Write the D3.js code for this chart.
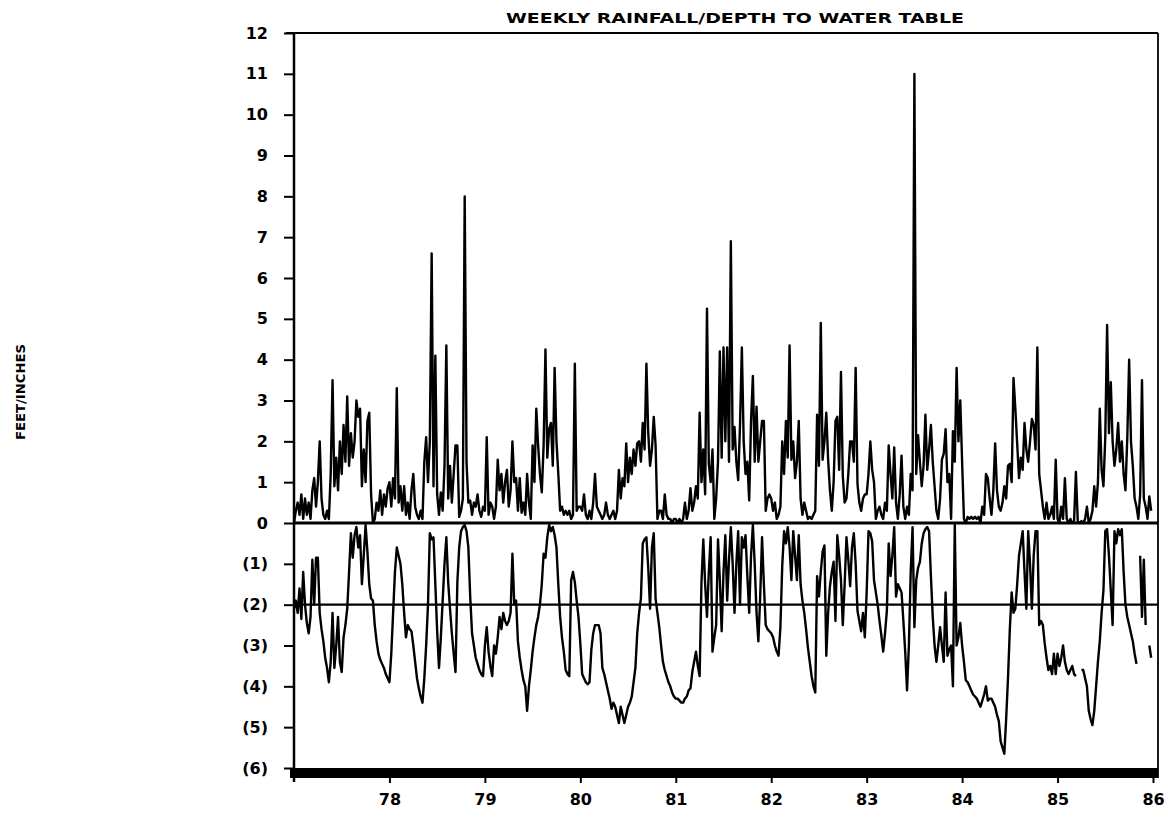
<!DOCTYPE html>
<html>
<head>
<meta charset="utf-8">
<script src="https://cdn.jsdelivr.net/npm/d3@7"></script>
<style>
body { margin: 0; background: #fff; }
.axis text { font-family: "DejaVu Sans", sans-serif; font-weight: bold; fill: #000; }
.axis line { stroke: #000; stroke-width: 2; }
.label { font-family: "DejaVu Sans", sans-serif; font-weight: bold; fill: #000; }
</style>
</head>
<body>
<div id="chart"></div>
<script>
// weekly values, 52 per year
const years = [77, 78, 79, 80, 81, 82, 83, 84, 85];

const rain77 = [0.0,0.3,0.5,0.2,0.7,0.1,0.6,0.2,0.5,0.1,0.8,1.1,0.4,1.0,2.0,0.6,0.2,0.1,0.3,0.1,1.2,3.5,0.9,1.6,0.8,2.0,1.2,2.4,1.5,3.1,1.4,2.2,1.6,2.0,3.0,2.6,2.8,0.9,1.8,1.0,2.5,2.7,0.7,0.0,0.1,0.5,0.3,0.8,0.2,0.7,0.4,0.85];
const rain78 = [1.0,0.4,1.1,0.6,3.3,0.5,0.9,0.3,0.9,0.2,0.5,0.1,0.8,1.2,0.4,0.2,0.1,0.3,0.1,1.5,2.1,1.0,2.0,6.6,0.9,4.1,0.7,0.2,0.75,0.3,1.4,4.35,0.6,1.4,0.5,1.2,1.9,1.9,0.15,0.3,0.6,8.0,1.5,0.5,0.55,0.2,0.5,0.4,0.7,0.3,0.15,0.4];
const rain79 = [0.3,2.1,0.2,0.5,0.4,0.1,0.4,1.55,0.8,1.2,0.5,1.0,1.3,0.4,0.8,2.0,1.0,1.1,0.3,1.1,0.25,0.5,0.2,1.2,0.5,0.1,1.9,1.0,2.8,1.9,1.2,0.75,1.9,4.25,1.6,2.3,2.45,1.4,3.8,2.0,1.2,0.3,0.4,0.2,0.3,0.2,0.3,0.1,0.2,3.9,0.3,0.4];
const rain80 = [0.4,0.3,0.7,0.2,0.1,0.3,0.1,0.5,1.2,0.4,0.3,0.2,0.1,0.2,0.5,0.2,0.1,0.2,0.3,0.1,0.3,1.3,0.6,1.1,0.9,1.95,1.0,1.6,1.2,1.8,1.4,1.95,2.0,1.5,2.45,1.8,3.9,2.2,1.4,1.8,2.6,1.9,0.1,0.3,0.3,0.1,0.7,0.2,0.1,0.1,0.0,0.1];
const rain81 = [0.1,0.0,0.1,0.0,0.1,0.5,0.1,0.3,0.85,0.3,0.5,0.9,0.6,2.7,1.0,1.8,0.7,5.25,1.45,1.0,1.8,0.1,0.6,1.5,4.2,1.6,4.3,2.0,4.3,1.5,6.9,1.8,2.35,1.5,1.05,2.4,4.3,2.0,1.2,1.5,0.55,2.5,3.6,1.5,2.85,1.5,2.0,2.5,2.5,0.3,0.6,0.7];
const rain82 = [0.6,0.3,0.5,0.1,0.2,0.4,2.0,1.2,2.5,1.6,4.35,1.55,2.0,1.1,1.5,2.5,0.6,0.2,0.5,0.3,0.1,0.15,0.1,0.2,0.3,2.65,1.4,4.9,1.55,2.0,2.7,1.55,0.8,0.3,1.0,2.5,2.6,1.3,3.7,1.15,0.5,0.6,1.2,2.0,2.0,1.5,3.8,0.95,0.5,0.3,0.6,0.7];
const rain83 = [0.7,1.2,2.0,1.3,1.0,0.1,0.3,0.4,0.2,0.1,0.5,0.3,1.9,1.2,0.6,1.85,0.5,0.1,0.7,1.65,0.4,0.1,0.4,0.2,1.2,0.8,11.0,1.2,2.15,1.5,0.9,1.4,2.65,1.3,1.8,2.4,1.5,0.9,0.3,0.1,0.6,1.55,1.7,2.3,1.0,1.2,0.1,2.25,1.5,3.8,2.0,3.0];
const rain84 = [1.5,0.1,0.0,0.15,0.1,0.15,0.1,0.15,0.1,0.15,0.0,0.4,0.2,1.2,1.1,0.6,0.2,0.8,1.95,0.8,0.4,0.3,0.5,0.9,0.6,1.4,1.45,1.0,3.55,2.8,1.95,1.1,1.6,1.3,2.45,1.8,1.5,2.0,2.55,2.4,1.8,4.3,1.2,0.8,0.4,0.1,0.5,0.1,0.2,0.4,0.1,1.55];
const rain85 = [0.1,0.0,0.4,0.1,1.1,0.1,0.0,0.1,0.0,0.05,1.25,0.05,0.0,0.05,0.0,0.1,0.4,0.0,0.1,0.3,0.9,0.4,1.0,2.8,1.3,0.9,2.1,4.85,2.2,3.45,2.0,1.4,1.8,2.45,1.5,2.0,1.2,0.8,2.1,4.0,2.0,1.4,0.6,0.4,0.1,0.7,3.5,0.6,0.4,0.1,0.65,0.3];

// depth to water table in feet (negative = below surface), null = no reading
const water77 = [-2.1,-1.9,-2.2,-1.6,-2.35,-1.2,-2.0,-2.45,-2.7,-2.3,-0.9,-2.0,-0.85,-0.85,-2.2,-2.6,-2.9,-3.3,-3.55,-3.9,-3.4,-2.2,-3.55,-3.0,-2.3,-3.4,-3.65,-2.8,-2.5,-2.1,-1.2,-0.25,-0.85,-0.3,-0.1,-0.6,-0.3,-1.5,-0.8,-0.05,-0.7,-1.5,-1.85,-1.9,-2.5,-2.9,-3.2,-3.35,-3.45,-3.55,-3.7,-3.8];
const water78 = [-3.9,-3.2,-2.2,-1.2,-0.6,-0.8,-1.0,-1.5,-2.2,-2.8,-2.5,-2.6,-2.65,-3.0,-3.4,-3.8,-4.05,-4.25,-4.4,-3.8,-3.0,-2.0,-0.25,-0.4,-0.35,-1.5,-2.65,-3.55,-2.8,-1.9,-1.0,-0.35,-1.45,-2.1,-2.7,-3.2,-3.65,-1.45,-0.6,-0.2,-0.1,-0.05,-0.2,-0.6,-1.8,-2.7,-3.0,-3.3,-3.45,-3.6,-3.7,-3.75];
const water79 = [-3.0,-2.55,-3.15,-3.5,-3.75,-3.0,-3.2,-2.8,-2.3,-2.6,-2.2,-2.4,-2.5,-2.4,-2.2,-0.75,-2.0,-1.9,-2.9,-3.3,-3.6,-3.85,-4.0,-4.6,-4.0,-3.6,-3.15,-2.8,-2.5,-2.3,-2.0,-1.5,-0.75,-0.85,-0.35,-0.05,-0.2,-0.1,-0.3,-0.6,-1.5,-2.3,-2.8,-3.15,-3.6,-3.7,-3.75,-1.4,-1.2,-1.45,-1.9,-2.3];
const water80 = [-2.95,-3.7,-3.8,-3.9,-3.95,-3.9,-3.1,-2.7,-2.5,-2.5,-2.5,-2.7,-3.55,-3.7,-3.9,-4.1,-4.3,-4.55,-4.4,-4.5,-4.7,-4.9,-4.5,-4.7,-4.9,-4.7,-4.5,-4.4,-4.25,-3.9,-3.55,-2.7,-2.2,-1.85,-0.5,-0.4,-0.35,-1.1,-2.1,-0.6,-0.25,-1.85,-2.2,-2.55,-3.0,-3.4,-3.6,-3.75,-3.9,-4.0,-4.15,-4.25];
const water81 = [-4.3,-4.3,-4.35,-4.4,-4.4,-4.3,-4.25,-4.1,-4.05,-3.65,-3.4,-3.15,-3.5,-3.75,-1.45,-0.4,-1.5,-2.3,-1.2,-0.35,-3.15,-2.8,-2.5,-0.4,-1.4,-2.65,-1.2,-0.3,-1.9,-0.9,-0.1,-1.0,-2.2,-1.0,-0.2,-2.0,-0.35,-0.6,-0.3,-1.3,-2.2,-0.8,-0.05,-1.0,-2.2,-2.9,-1.8,-0.35,-1.5,-2.5,-2.6,-2.65];
const water82 = [-2.7,-2.8,-3.0,-3.15,-3.25,-2.55,-1.05,-0.2,-0.5,-0.1,-0.6,-1.4,-0.2,-0.8,-1.4,-0.3,-1.5,-1.9,-2.2,-2.6,-3.05,-3.4,-3.75,-4.0,-4.15,-1.3,-1.8,-1.2,-0.7,-0.55,-3.25,-2.2,-1.55,-1.2,-0.95,-2.4,-0.3,-0.8,-1.4,-2.5,-1.5,-0.35,-0.9,-1.55,-0.6,-0.25,-1.0,-2.15,-2.4,-2.65,-2.2,-2.8];
const water83 = [-1.7,-0.2,-0.25,-0.45,-1.4,-1.7,-2.0,-2.4,-2.75,-3.15,-2.7,-2.15,-0.5,-1.3,-0.8,-0.1,-1.8,-1.5,-1.6,-1.7,-2.4,-3.15,-4.1,-3.0,-1.2,-0.1,-2.55,-1.4,-1.1,-0.95,-0.5,-0.25,-0.15,-0.1,-0.2,-1.3,-2.3,-3.0,-3.4,-3.0,-2.55,-3.0,-3.4,-1.7,-3.25,-3.1,-3.0,-4.0,-0.05,-3.0,-2.8,-2.45];
const water84 = [-3.0,-3.4,-3.85,-3.9,-4.0,-4.1,-4.2,-4.25,-4.3,-4.4,-4.5,-4.35,-4.2,-4.0,-4.35,-4.3,-4.3,-4.4,-4.5,-4.7,-4.85,-5.35,-5.5,-5.65,-4.8,-3.8,-2.6,-1.7,-2.2,-2.1,-1.5,-0.8,-0.5,-0.2,-1.2,-2.1,-0.2,-1.0,-2.1,-0.8,-0.2,-0.2,-2.5,-2.4,-2.5,-2.95,-3.3,-3.6,-3.5,-3.7,-3.2,-3.7];
const water85 = [-3.2,-3.5,-3.3,-3.0,-3.4,-3.6,-3.7,-3.6,-3.5,-3.7,-3.75,null,null,-3.6,-3.6,-3.8,-4.0,-4.6,-4.8,-4.95,-4.6,-4.0,-3.4,-2.9,-2.2,-1.65,-0.2,-0.15,-0.8,-1.65,-2.5,-0.2,-0.5,-0.15,-0.3,-0.15,-1.2,-2.0,-2.3,-2.5,-2.7,-2.9,-3.2,-3.45,null,-0.8,-2.3,-0.9,-2.5,null,-3.0,-3.3];

const xTicks = [78, 79, 80, 81, 82, 83, 84, 85, 86];
const yTicks = [-6, -5, -4, -3, -2, -1, 0, 1, 2, 3, 4, 5, 6, 7, 8, 9, 10, 11, 12];

const width = 1168;
const height = 829;

const svg = d3.select("#chart")
    .append("svg")
    .attr("width", width)
    .attr("height", height);

const rainYears = [rain77, rain78, rain79, rain80, rain81, rain82, rain83, rain84, rain85];
const waterYears = [water77, water78, water79, water80, water81, water82, water83, water84, water85];

const rain = [];
rainYears.forEach(function(arr, k) {
    arr.forEach(function(v, i) { rain.push({x: years[k] + i / 52, v: v}); });
});
const water = [];
waterYears.forEach(function(arr, k) {
    arr.forEach(function(v, i) { water.push({x: years[k] + i / 52, v: v}); });
});

const xScale = d3.scaleLinear()
    .domain([77, 86])
    .range([294, 1153]);
const yScale = d3.scaleLinear()
    .domain([-6, 12])
    .range([768, 33]);

const x0 = xScale(77);
const x1 = xScale(86) + 5;
const yTop = yScale(12);
const yBot = yScale(-6);

// frame
svg.append("line")
    .attr("x1", x0 - 8).attr("x2", x1)
    .attr("y1", yTop).attr("y2", yTop)
    .attr("stroke", "#000").attr("stroke-width", 2);
svg.append("line")
    .attr("x1", x1).attr("x2", x1)
    .attr("y1", yTop).attr("y2", yBot + 10)
    .attr("stroke", "#000").attr("stroke-width", 1.8);
svg.append("line")
    .attr("x1", x0).attr("x2", x0)
    .attr("y1", yTop).attr("y2", yBot + 14)
    .attr("stroke", "#000").attr("stroke-width", 2.5);
svg.append("rect")
    .attr("x", x0 - 4)
    .attr("y", yBot)
    .attr("width", x1 - x0 + 4)
    .attr("height", 10)
    .attr("fill", "#000");

// reference lines at 0 and (2)
svg.append("line")
    .attr("x1", x0).attr("x2", x1)
    .attr("y1", yScale(0)).attr("y2", yScale(0))
    .attr("stroke", "#000").attr("stroke-width", 2.8);
svg.append("line")
    .attr("x1", x0).attr("x2", x1)
    .attr("y1", yScale(-2)).attr("y2", yScale(-2))
    .attr("stroke", "#000").attr("stroke-width", 2.2);

// axes
const yAxis = svg.append("g")
    .attr("class", "axis")
    .attr("transform", `translate(${x0},0)`)
    .call(d3.axisLeft(yScale)
        .tickValues(yTicks)
        .tickSize(10)
        .tickPadding(16)
        .tickFormat(function(d) { return d < 0 ? `(${-d})` : d; }));
yAxis.select(".domain").remove();
yAxis.selectAll("text").style("font-size", "16px");

const xAxis = svg.append("g")
    .attr("class", "axis")
    .attr("transform", `translate(0,${yBot + 10})`)
    .call(d3.axisBottom(xScale)
        .tickValues(xTicks)
        .tickSize(5)
        .tickPadding(11)
        .tickFormat(function(d) { return d; }));
xAxis.select(".domain").remove();
xAxis.selectAll("text").style("font-size", "16px");

// series
const line = d3.line()
    .defined(function(d) { return d.v != null; })
    .x(function(d) { return xScale(d.x); })
    .y(function(d) { return yScale(d.v); });

svg.append("path")
    .datum(water)
    .attr("fill", "none")
    .attr("stroke", "#000")
    .attr("stroke-width", 2.4)
    .attr("stroke-linejoin", "round")
    .attr("d", line);

svg.append("path")
    .datum(rain)
    .attr("fill", "none")
    .attr("stroke", "#000")
    .attr("stroke-width", 2.4)
    .attr("stroke-linejoin", "round")
    .attr("d", line);

// labels
svg.append("text")
    .attr("class", "label")
    .attr("x", 735)
    .attr("y", 23)
    .attr("text-anchor", "middle")
    .attr("textLength", 458)
    .attr("lengthAdjust", "spacingAndGlyphs")
    .style("font-size", "14px")
    .text("WEEKLY RAINFALL/DEPTH TO WATER TABLE");

svg.append("text")
    .attr("class", "label")
    .attr("transform", "translate(25,392) rotate(-90)")
    .attr("text-anchor", "middle")
    .attr("textLength", 96)
    .attr("lengthAdjust", "spacingAndGlyphs")
    .style("font-size", "12px")
    .text("FEET/INCHES");
</script>
</body>
</html>
